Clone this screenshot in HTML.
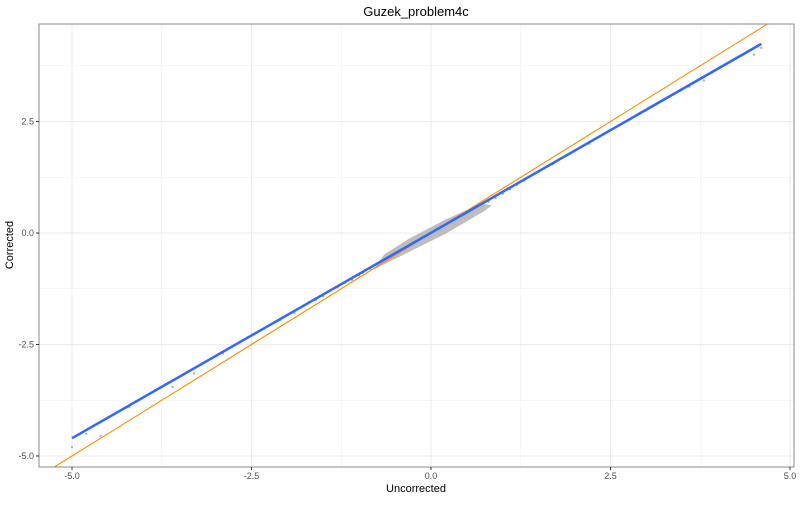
<!DOCTYPE html>
<html><head><meta charset="utf-8"><style>
body{margin:0;background:#fff;font-family:"Liberation Sans",sans-serif}
svg text{font-family:"Liberation Sans",sans-serif}
</style></head><body>
<svg id="c" width="800" height="500">
<rect x="0" y="0" width="800" height="500" fill="#fff"/>
<text x="416" y="16" text-anchor="middle" font-size="13" fill="#000">Guzek_problem4c</text>
<g id="grid"></g>
<g id="pts"></g>
<g id="lines"></g>
<rect x="39" y="24" width="755" height="443" fill="none" stroke="#888" stroke-width="1"/>
<g id="ticks"></g>
<text x="416" y="492" text-anchor="middle" font-size="11" fill="#000">Uncorrected</text>
<text transform="translate(13,245) rotate(-90)" text-anchor="middle" font-size="11" fill="#000">Corrected</text>
</svg>
<script>
const xTicks=[-5,-2.5,0,2.5,5];
const yTicks=[-5,-2.5,0,2.5];
const xTickLabels=["-5.0","-2.5","0.0","2.5","5.0"];
const yTickLabels=["-5.0","-2.5","0.0","2.5"];
const ptX=[-5,-4.8,-4.6,-4.2,-3.6,-3.3,-2.9,-2.1,-1.9,-1.6,-1.5,-1.3,-1.2,-1.1,-1.0,-0.95,-0.9,-0.85,-0.8,-0.75,-0.7,-0.65,-0.6,-0.55,-0.5,-0.45,-0.4,-0.35,-0.3,-0.25,-0.2,-0.15,-0.1,-0.05,0,0.05,0.1,0.15,0.2,0.25,0.3,0.35,0.4,0.45,0.5,0.55,0.6,0.65,0.7,0.8,0.9,1.0,1.1,1.2,1.3,1.5,1.7,2.0,2.2,2.6,3.0,3.6,3.8,4.5,4.6,-0.5,-0.4,-0.3,-0.2,-0.1,0,0.1,0.2,0.3,0.4,0.5,-0.6,-0.3,0,0.3,0.6,0.1,-0.1,0.2,-0.2,-0.45,0.35,0.55];
const ptY=[-4.8,-4.5,-4.55,-3.9,-3.45,-3.15,-2.7,-1.95,-1.8,-1.5,-1.42,-1.22,-1.12,-1.05,-0.95,-0.9,-0.82,-0.8,-0.75,-0.7,-0.62,-0.55,-0.52,-0.48,-0.42,-0.4,-0.35,-0.3,-0.26,-0.22,-0.16,-0.12,-0.08,-0.04,0,0.04,0.09,0.13,0.17,0.22,0.28,0.3,0.35,0.4,0.44,0.48,0.52,0.55,0.62,0.7,0.78,0.88,0.98,1.08,1.18,1.37,1.55,1.83,2.0,2.4,2.75,3.28,3.42,4.0,4.15,-0.52,-0.42,-0.25,-0.22,-0.12,-0.05,0.06,0.12,0.3,0.3,0.38,-0.62,-0.3,0.05,0.22,0.48,0.05,-0.05,0.25,-0.15,-0.35,0.28,0.42];
const fitX=[-5,4.6];
const fitY=[-4.6,4.24];
const idX=[-5.5,5.5];
const idY=[-5.5,5.5];
const X0=39,X1=794,Y0=24,Y1=467;
const sx=v=>431+v*71.8;
const sy=v=>233-v*44.6;
const NS="http://www.w3.org/2000/svg";
function mk(t,p,parent){const e=document.createElementNS(NS,t);for(const k in p)e.setAttribute(k,p[k]);document.getElementById(parent).appendChild(e);return e;}
for(let v=-5;v<=5;v+=1.25){const x=sx(v);const major=Math.abs(v/2.5-Math.round(v/2.5))<1e-9;
const l=mk('line',{x1:x,x2:x,y1:Y0,y2:Y1,stroke:'#ebebeb','stroke-width':major?1:0.5},'grid');

}
for(let v=-5;v<=3.75;v+=1.25){const y=sy(v);const major=Math.abs(v/2.5-Math.round(v/2.5))<1e-9;
const l=mk('line',{x1:X0,x2:X1,y1:y,y2:y,stroke:'#ebebeb','stroke-width':major?1:0.5},'grid');

}
for(let i=0;i<ptX.length;i++){const c=mk('circle',{cx:sx(ptX[i]),cy:sy(ptY[i]),r:1.1,fill:'#aaa'},'pts');

}
const band=mk('polygon',{points:[[-0.8,-0.82],[-0.3,-0.42],[0.2,-0.02],[0.75,0.5],[0.85,0.62],[0.7,0.66],[0.2,0.3],[-0.3,-0.12],[-0.65,-0.48]].map(p=>sx(p[0])+','+sy(p[1])).join(' '),fill:'#bdbdbd'},'pts');


const cp=mk('clipPath',{id:'clp'},'lines');mk('rect',{x:X0,y:Y0,width:X1-X0,height:Y1-Y0},'clp');
const idl=mk('line',{x1:sx(idX[0]),y1:sy(idY[0]),x2:sx(idX[1]),y2:sy(idY[1]),stroke:'#ff8c00','stroke-width':1.1,'clip-path':'url(#clp)'},'lines');


const fl=mk('line',{x1:sx(fitX[0]),y1:sy(fitY[0]),x2:sx(fitX[1]),y2:sy(fitY[1]),stroke:'#3366ff','stroke-width':2.5},'lines');


xTicks.forEach((v,i)=>{const x=sx(v);mk('line',{x1:x,x2:x,y1:Y1,y2:Y1+3,stroke:'#333'},'ticks');
const t=mk('text',{x:x,y:Y1+12,'text-anchor':'middle','font-size':9,fill:'#4d4d4d'},'ticks');t.textContent=xTickLabels[i];

});
yTicks.forEach((v,i)=>{const y=sy(v);mk('line',{x1:X0-3,x2:X0,y1:y,y2:y,stroke:'#333'},'ticks');
const t=mk('text',{x:X0-5,y:y+3,'text-anchor':'end','font-size':9,fill:'#4d4d4d'},'ticks');t.textContent=yTickLabels[i];

});
</script>
</body></html>
